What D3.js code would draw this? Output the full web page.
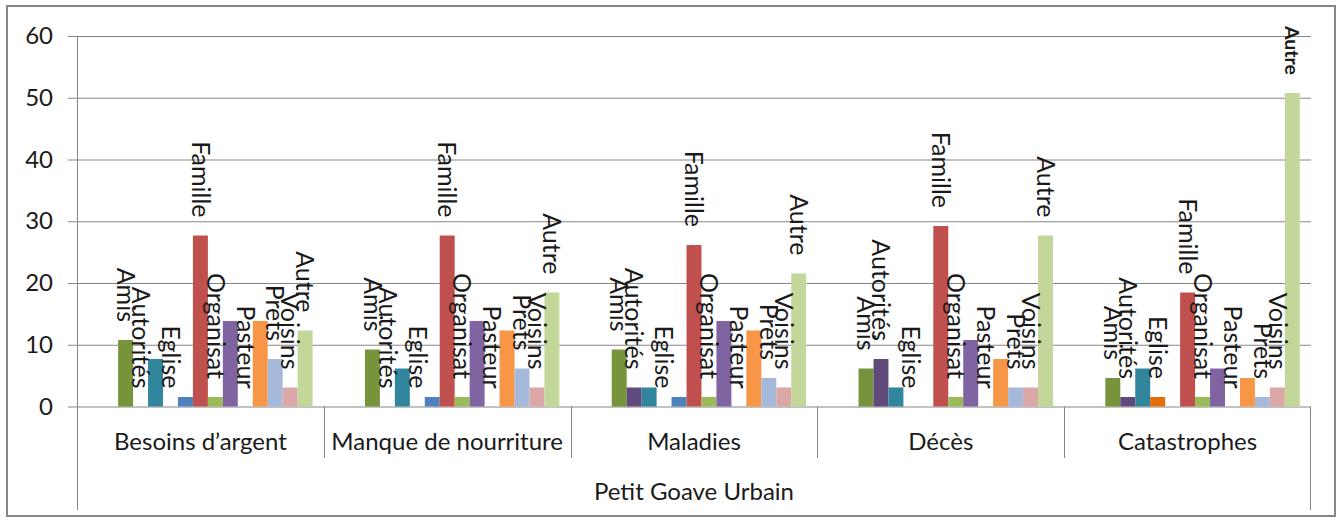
<!DOCTYPE html>
<html>
<head>
<meta charset="utf-8">
<script src="https://cdn.jsdelivr.net/npm/d3@7"></script>
<style>
  html, body { margin: 0; padding: 0; background: #ffffff; }
  svg { display: block; }
</style>
</head>
<body>
<svg id="chart" width="1342" height="518"></svg>
<script>
// Categories (inner level) and the outer grouping label
const categories = ["Besoins d’argent", "Manque de nourriture", "Maladies", "Décès", "Catastrophes"];
const outerCategory = "Petit Goave Urbain";

// Y axis tick values
const yTicks = [0, 10, 20, 30, 40, 50, 60];

// Series, in plotting order (percent of respondents per category)
const seriesKeys   = ["s01", "s02", "amis", "autorites", "s05", "eglise", "s07", "famille", "organisat", "s10", "pasteur", "s12", "prets", "voisins", "autre"];
const seriesLabels = ["", "", "Amis", "Autorités", "", "Eglise", "", "Famille", "Organisat", "", "Pasteur", "", "Prets", "Voisins", "Autre"];
const seriesColors = ["#4F81BD", "#C0504D", "#77933C", "#604A7B", "#31859C", "#E46C0A", "#4F81BD", "#C0504D",
                      "#9BBB59", "#8064A2", "#4BACC6", "#F79646", "#A7B9DA", "#DBA8A7", "#C4D79B"];

const s01       = [0, 0, 0, 0, 0];
const s02       = [0, 0, 0, 0, 0];
const amis      = [10.77, 9.23, 9.23, 6.15, 4.62];
const autorites = [0, 0, 3.08, 7.69, 1.54];
const s05       = [7.69, 6.15, 3.08, 3.08, 6.15];
const eglise    = [0, 0, 0, 0, 1.54];
const s07       = [1.54, 1.54, 1.54, 0, 0];
const famille   = [27.69, 27.69, 26.15, 29.23, 18.46];
const organisat = [1.54, 1.54, 1.54, 1.54, 1.54];
const s10       = [13.85, 13.85, 13.85, 10.77, 6.15];
const pasteur   = [0, 0, 0, 0, 0];
const s12       = [13.85, 12.31, 12.31, 7.69, 4.62];
const prets     = [7.69, 6.15, 4.62, 3.08, 1.54];
const voisins   = [3.08, 3.08, 3.08, 3.08, 3.08];
const autre     = [12.31, 18.46, 21.54, 27.69, 50.77];

const seriesValues = [s01, s02, amis, autorites, s05, eglise, s07, famille, organisat, s10, pasteur, s12, prets, voisins, autre];

// ---- layout ----
const FONT = "Lato, 'Open Sans', sans-serif";
const W = 1342, H = 518;
const plot = { left: 77, right: 1311, top: 36, bottom: 406.5 };
const gridColor = "#868686";
const textColor = "#1a1a1a";

const svg = d3.select("#chart");

// chart frame
svg.append("rect")
  .attr("x", 7).attr("y", 6).attr("width", 1328).attr("height", 510)
  .attr("fill", "#ffffff").attr("stroke", gridColor).attr("stroke-width", 2);

const x0 = d3.scaleBand().domain(categories).range([plot.left, plot.right]);
const x1 = d3.scaleBand().domain(seriesKeys).range([0, x0.bandwidth()]).paddingOuter(0.75);
const y  = d3.scaleLinear().domain([0, 60]).range([plot.bottom, plot.top]);

// horizontal gridlines
const grid = svg.append("g")
  .attr("transform", `translate(${plot.left},0)`)
  .call(d3.axisLeft(y).tickValues(yTicks).tickSize(-(plot.right - plot.left)).tickFormat(""));
grid.select(".domain").remove();
grid.selectAll("line").attr("stroke", gridColor).attr("stroke-width", 1);

// y axis with outside ticks and labels
const yAxis = svg.append("g")
  .attr("transform", `translate(${plot.left},0)`)
  .call(d3.axisLeft(y).tickValues(yTicks).tickSize(9).tickPadding(15));
yAxis.select(".domain").remove();
yAxis.selectAll("line").attr("stroke", gridColor);
yAxis.selectAll("text")
  .attr("font-family", FONT).attr("font-size", 24).attr("fill", textColor);

// bars
const rows = [];
categories.forEach((c, ci) => {
  seriesKeys.forEach((k, si) => {
    rows.push({ cat: c, key: k, label: seriesLabels[si], color: seriesColors[si], value: seriesValues[si][ci] });
  });
});

svg.append("g").selectAll("rect")
  .data(rows.filter(d => d.value > 0))
  .join("rect")
  .attr("x", d => x0(d.cat) + x1(d.key))
  .attr("width", x1.bandwidth())
  .attr("y", d => y(d.value))
  .attr("height", d => y(0) - y(d.value))
  .attr("fill", d => d.color);

// vertical axis line and category separators
const axisG = svg.append("g").attr("stroke", gridColor).attr("stroke-width", 1);
axisG.append("line")
  .attr("x1", plot.left + 0.5).attr("x2", plot.left + 0.5)
  .attr("y1", plot.top).attr("y2", 510);
axisG.append("line")
  .attr("x1", plot.right - 0.5).attr("x2", plot.right - 0.5)
  .attr("y1", plot.bottom).attr("y2", 510);
axisG.selectAll("line.sep")
  .data(categories.slice(1))
  .join("line")
  .attr("class", "sep")
  .attr("x1", d => Math.round(x0(d)) + 0.5).attr("x2", d => Math.round(x0(d)) + 0.5)
  .attr("y1", plot.bottom).attr("y2", 458);

// category labels
svg.append("g").selectAll("text")
  .data(categories)
  .join("text")
  .attr("x", d => x0(d) + x0.bandwidth() / 2)
  .attr("y", 450)
  .attr("text-anchor", "middle")
  .attr("font-family", FONT).attr("font-size", 24).attr("fill", textColor)
  .text(d => d);

svg.append("text")
  .attr("x", (plot.left + plot.right) / 2)
  .attr("y", 500)
  .attr("text-anchor", "middle")
  .attr("font-family", FONT).attr("font-size", 24).attr("fill", textColor)
  .text(outerCategory);

// rotated series-name labels above each bar
const LABEL_SIZE = 25, LABEL_GAP = 18;
const labels = svg.append("g").selectAll("text")
  .data(rows.filter(d => d.label))
  .join("text")
  .attr("text-anchor", "end")
  .attr("dy", "0.35em")
  .attr("font-family", FONT).attr("font-size", LABEL_SIZE).attr("fill", textColor)
  .text(d => d.label);

labels.each(function (d) {
  const t = d3.select(this);
  const cx = x0(d.cat) + x1(d.key) + x1.bandwidth() / 2;
  const endY = y(d.value) - LABEL_GAP;
  // shrink labels that would run past the top of the plot area
  if (endY - this.getComputedTextLength() < plot.top) {
    t.attr("font-size", LABEL_SIZE * 0.78).attr("font-weight", "bold");
  }
  t.attr("transform", `translate(${cx},${endY}) rotate(90)`);
});
</script>
</body>
</html>
